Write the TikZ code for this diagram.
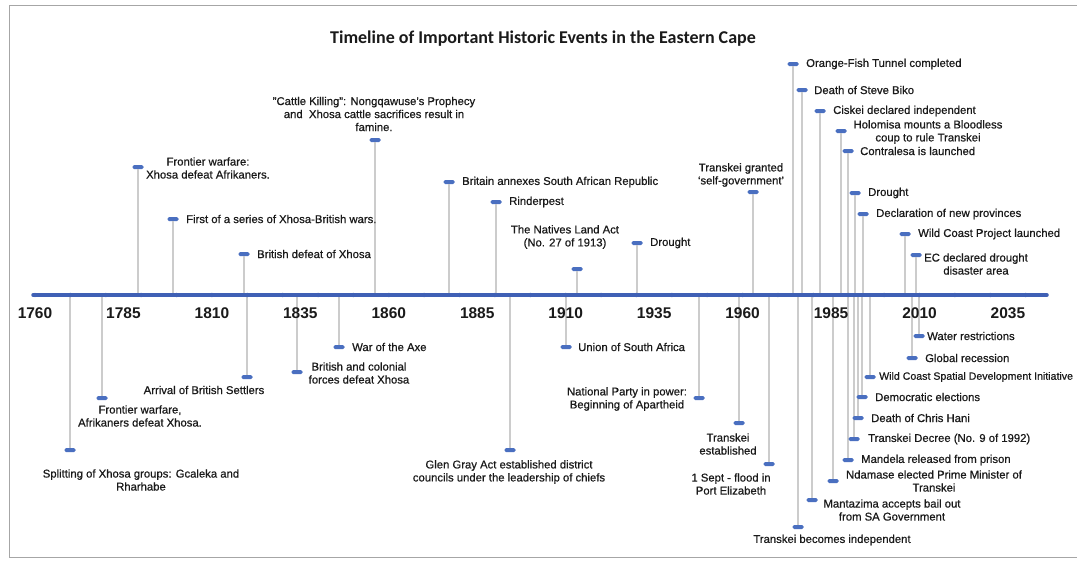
\documentclass[tikz,border=0pt]{standalone}
\usepackage{fontspec}
\setmainfont{Liberation Sans}
\newfontfamily\lblfamily{Liberation Sans}[FakeBold=0.6,Ligatures=TeX]
\newfontfamily\titlefont{Carlito}
\definecolor{evblue}{HTML}{4A6FC0}
\definecolor{axblue}{HTML}{3F60B5}
\definecolor{txt}{HTML}{1A1A1A}
% event with label to the right of the marker: id, x, y, text-x, text
\newcommand{\evright}[5]{%
  \coordinate (a#1) at (#2,295);
  \node[mk] (m#1) at (#2,#3) {};
  \draw[stem] (a#1) -- (m#1);
  \node[lbl, anchor=west] (t#1) at (#4,#3) {#5};
}
% event with label centred at a given point: id, x, y, label-x, label-y, text
\newcommand{\evat}[6]{%
  \coordinate (a#1) at (#2,295);
  \node[mk] (m#1) at (#2,#3) {};
  \draw[stem] (a#1) -- (m#1);
  \node[lbl] (t#1) at (#4,#5) {#6};
}
\begin{document}
\begin{tikzpicture}[x=1pt,y=-1pt,
  mk/.style={fill=evblue, draw=none, rounded corners=1.5pt, minimum width=11pt, minimum height=4pt, inner sep=0pt},
  stem/.style={draw=black!20, line width=1.6pt},
  lbl/.style={font=\lblfamily\fontsize{11.3}{13}\selectfont, text=txt, inner sep=0pt, align=center},
  yr/.style={font=\bfseries\fontsize{15.5}{18}\selectfont, text=txt, inner sep=0pt},
  ttl/.style={font=\titlefont\bfseries\fontsize{18}{20}\selectfont, text=txt, inner sep=0pt}]
\useasboundingbox (0,0) rectangle (1077,560);
\fill[white] (0,0) rectangle (1077,560);
\draw[black!35, line width=1pt] (9,5) rectangle (1090,557);

\node[ttl] (title) at (543,39) {Timeline of Important Historic Events in the Eastern Cape};

% ---- events above the axis
\evat{1}{375}{140}{374}{114}{"Cattle Killing": Nongqawuse's Prophecy\\and\ \ Xhosa cattle sacrifices result in\\famine.}
\evat{2}{138}{167}{208}{168}{Frontier warfare:\\Xhosa defeat Afrikaners.}
\evright{3}{173}{219}{186}{First of a series of Xhosa-British wars.}
\evright{4}{244}{254}{257}{British defeat of Xhosa}
\evright{5}{449}{182}{462}{Britain annexes South African Republic}
\evright{6}{496}{202}{509}{Rinderpest}
\evat{7}{577}{269}{565}{237}{The Natives Land Act\\(No. 27 of 1913)}
\evright{8}{637}{243}{650}{Drought}
\evat{9}{753}{192}{741}{175}{Transkei granted\\‘self-government’}
\evright{10}{793}{64}{806}{Orange-Fish Tunnel completed}
\evright{11}{802}{90}{814}{Death of Steve Biko}
\evright{12}{820}{111}{833}{Ciskei declared independent}
\evat{13}{841}{131}{928}{132}{Holomisa mounts a Bloodless\\coup to rule Transkei}
\evright{14}{848}{151}{860}{Contralesa is launched}
\evright{15}{855}{193}{868}{Drought}
\evright{16}{863}{214}{876}{Declaration of new provinces}
\evright{17}{905}{234}{918}{Wild Coast Project launched}
\evat{18}{916}{255}{976}{264}{EC declared drought\\disaster area}

% ---- events below the axis
\evat{19}{70}{450}{141}{480}{Splitting of Xhosa groups: Gcaleka and\\Rharhabe}
\evat{20}{102}{398}{140}{416}{Frontier warfare,\\Afrikaners defeat Xhosa.}
\evat{21}{247}{377}{204}{390}{Arrival of British Settlers}
\evat{22}{297}{372}{359}{373}{British and colonial\\forces defeat Xhosa}
\evright{23}{339}{347}{352}{War of the Axe}
\evat{24}{510}{450}{509}{472}{Glen Gray Act established district\\councils under the leadership of chiefs}
\evright{25}{566}{347}{578}{Union of South Africa}
\evat{26}{699}{398}{627}{399}{National Party in power:\\Beginning of Apartheid}
\evat{27}{739}{423}{728}{444}{Transkei\\established}
\evat{28}{769}{464}{731}{484}{1 Sept - flood in\\Port Elizabeth}
\evat{29}{798}{527}{832}{540}{Transkei becomes independent}
\evat{30}{812}{500}{892}{510}{Mantazima accepts bail out\\from SA Government}
\evat{31}{833}{481}{934}{481}{Ndamase elected Prime Minister of\\Transkei}
\evright{32}{848}{460}{861}{Mandela released from prison}
\evright{33}{854}{439}{868}{Transkei Decree (No. 9 of 1992)}
\evright{34}{858}{418}{871}{Death of Chris Hani}
\evright{35}{862}{397}{875}{Democratic elections}
\evright{36}{870}{377}{879}{\fontsize{10.6}{13}\selectfont Wild Coast Spatial Development Initiative}
\evright{37}{919}{336}{927}{Water restrictions}
\evright{38}{912}{358}{925}{Global recession}

% ---- axis
\coordinate (axL) at (33,295);
\coordinate (axR) at (1047,295);
\draw[axblue, line width=3.5pt, line cap=round] (axL) -- (axR);
\foreach \i in {0,...,28} \fill[axblue] (35+\i*35.38,295) circle (2.2pt);
\foreach \yy [count=\k from 0] in {1760,1785,1810,1835,1860,1885,1910,1935,1960,1985,2010,2035}
  \node[yr] (y\yy) at (35+\k*88.45,313) {\yy};
\end{tikzpicture}
\end{document}
